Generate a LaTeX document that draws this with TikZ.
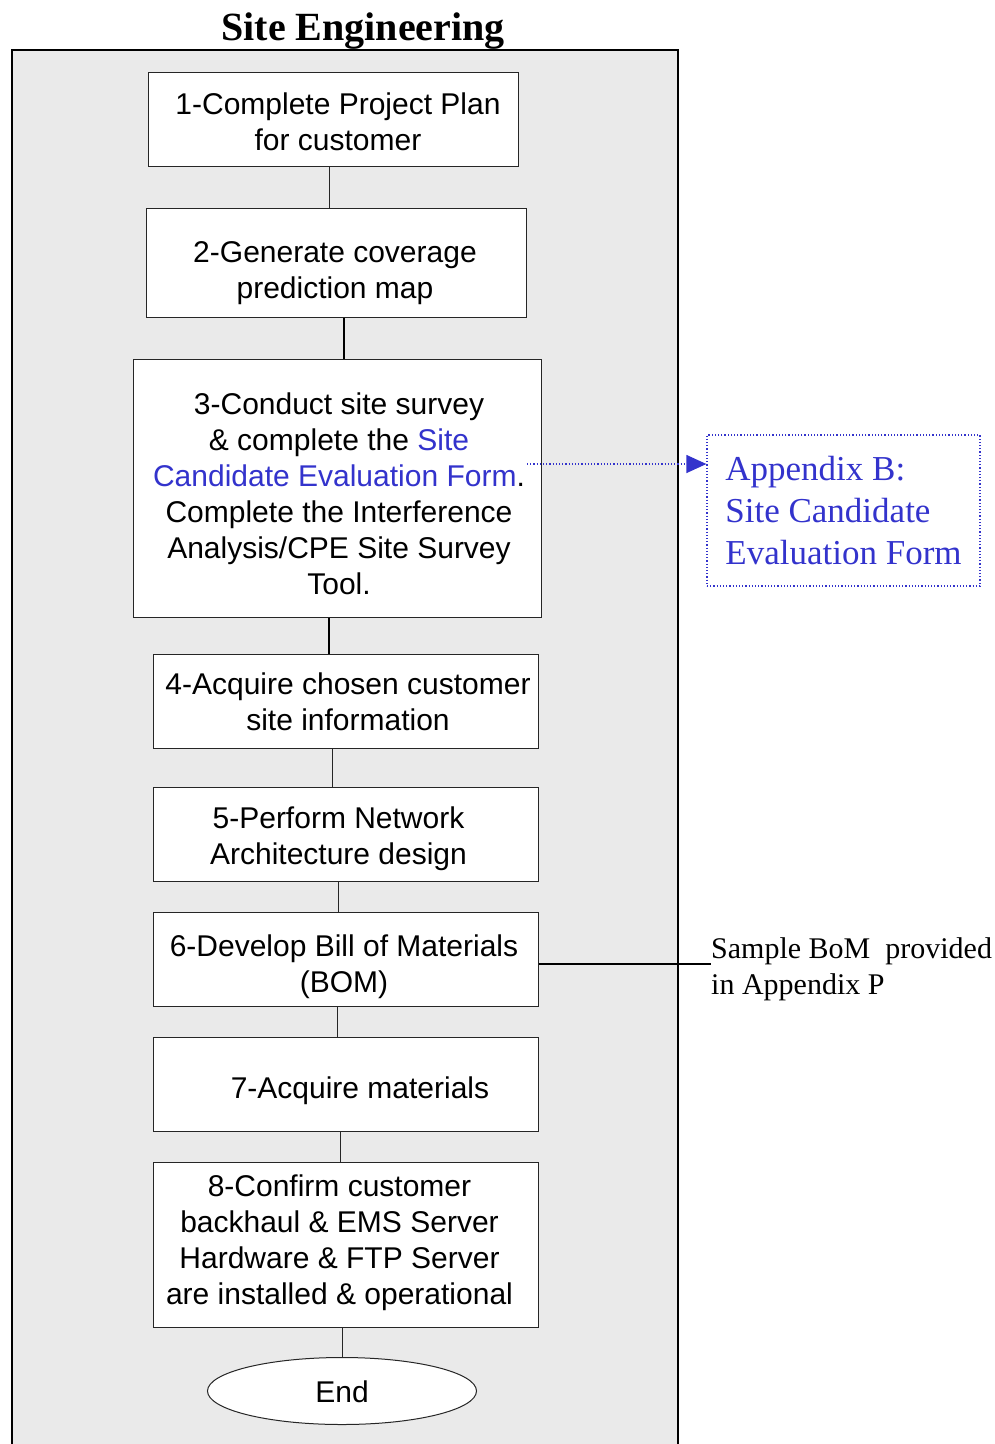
\documentclass[tikz,border=0pt]{standalone}
\usepackage{fontspec}
\setmainfont{Liberation Serif}
\newfontfamily\boxfont{Liberation Sans}
\usetikzlibrary{shapes.geometric,arrows.meta}
\definecolor{linkblue}{HTML}{3333CC}
\definecolor{panelgray}{HTML}{EAEAEA}
\tikzset{
  stepbox/.style={draw=black!85, line width=1pt, fill=white, inner sep=0pt},
  steptext/.style={align=center, font=\boxfont\fontsize{30}{36}\selectfont, inner sep=0pt},
  link/.style={draw=black!85, line width=1pt},
  thicklink/.style={draw=black, line width=1.8pt},
  sidenote/.style={font=\fontsize{30}{36}\selectfont, align=left, anchor=north west, inner sep=0pt},
}
\begin{document}
\begin{tikzpicture}[x=1pt, y=-1pt]
\useasboundingbox (0,0) rectangle (995,1444);

% swim-lane panel, open at the bottom
\fill[panelgray] (12,50) rectangle (678,1444);
\draw[line width=2pt] (12,1444) -- (12,50) -- (678,50) -- (678,1444);
\node[font=\bfseries\fontsize{40}{44}\selectfont] (title) at (363,31) {Site Engineering};

% process step frames
\node[stepbox, minimum width=370, minimum height=94]  (s1) at (333,119) {};
\node[stepbox, minimum width=380, minimum height=109] (s2) at (336,262.5) {};
\node[stepbox, minimum width=408, minimum height=258] (s3) at (337,488) {};
\node[stepbox, minimum width=385, minimum height=94]  (s4) at (345.5,701) {};
\node[stepbox, minimum width=385, minimum height=94]  (s5) at (345.5,834) {};
\node[stepbox, minimum width=385, minimum height=94]  (s6) at (345.5,959) {};
\node[stepbox, minimum width=385, minimum height=94]  (s7) at (345.5,1084) {};
\node[stepbox, minimum width=385, minimum height=165] (s8) at (345.5,1244.5) {};
\node[stepbox, ellipse, minimum width=269, minimum height=67] (end) at (342,1391) {};

% step texts
\node[steptext] (t1) at ([shift={(5,3)}]s1.center) {1-Complete Project Plan\\for customer};
\node[steptext] (t2) at ([shift={(-1,11)}]s2.center) {2-Generate coverage\\prediction map};
\node[steptext] (t3) at ([shift={(2,6)}]s3.center)
  {3-Conduct site survey\\
   \& complete the \textcolor{linkblue}{Site}\\
   \textcolor{linkblue}{Candidate Evaluation Form}.\\
   Complete the Interference\\
   Analysis/CPE Site Survey\\
   Tool.};
\node[steptext] (t4) at ([shift={(2.5,1)}]s4.center) {4-Acquire chosen customer\\site information};
\node[steptext] (t5) at ([shift={(-7,5)}]s5.center) {5-Perform Network\\Architecture design};
\node[steptext] (t6) at ([shift={(-1.5,8)}]s6.center) {6-Develop Bill of Materials\\(BOM)};
\node[steptext] (t7) at ([shift={(0,7)}]s7.center) {\hspace*{29pt}7-Acquire materials};
\node[steptext] (t8) at ([shift={(-6,-1.5)}]s8.center)
  {8-Confirm customer\\backhaul \& EMS Server\\Hardware \& FTP Server\\are installed \& operational};
\node[steptext] (tend) at ([shift={(0,1)}]end.center) {End};

% vertical links between steps
\draw[link]      (329,0 |- s1.south) -- (329,0 |- s2.north);
\draw[thicklink] (344,0 |- s2.south) -- (344,0 |- s3.north);
\draw[thicklink] (329,0 |- s3.south) -- (329,0 |- s4.north);
\draw[link]      (332,0 |- s4.south) -- (332,0 |- s5.north);
\draw[link]      (338,0 |- s5.south) -- (338,0 |- s6.north);
\draw[link]      (337,0 |- s6.south) -- (337,0 |- s7.north);
\draw[link]      (340,0 |- s7.south) -- (340,0 |- s8.north);
\draw[link]      (342,0 |- s8.south) -- (end.north);

% reference to the evaluation form appendix
\node[draw=linkblue, dotted, line width=1.2pt, minimum width=273, minimum height=151,
      align=left, inner sep=0pt,
      font=\fontsize{35}{42}\selectfont, text=linkblue] (appB) at (843.5,510.5)
  {Appendix B:\\Site Candidate\\Evaluation Form};
\coordinate (formend) at (527,464);
\draw[linkblue, dotted, line width=1.2pt, -{Triangle[length=20pt,width=18pt]}]
  (formend) -- (appB.west |- formend);

% bill of materials note
\node[sidenote] (bom) at (711,937) {Sample BoM\ \ provided\\in Appendix P};
\draw[line width=2pt] (s6.east |- 0,964) -- (bom.west |- 0,964);
\end{tikzpicture}
\end{document}
